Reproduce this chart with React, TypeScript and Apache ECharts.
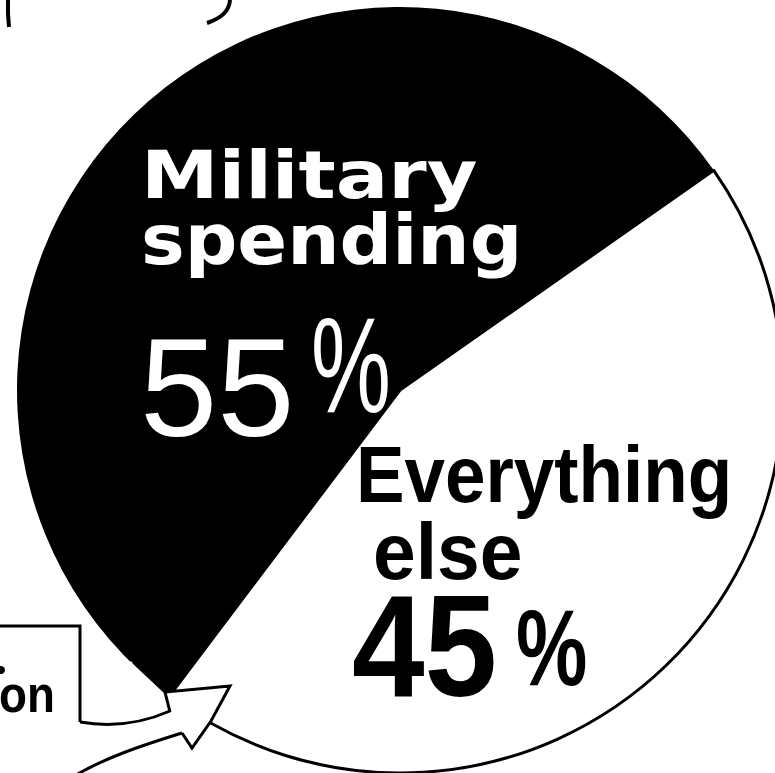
import React, { useEffect, useRef } from "react";
import * as echarts from "echarts";

const categories = ["Military spending", "Everything else"];
const values = [55, 45];
const nameLines = [["Military", "spending"], ["Everything", "else"]];
const sliceColors = ["#000000", "#ffffff"];
const boxText = "on";

export default function App() {
  const ref = useRef<HTMLDivElement>(null);
  useEffect(() => {
    if (!ref.current) return;
    const chart = echarts.init(ref.current, null, { renderer: "svg" });
    const total = values.reduce((a, b) => a + b, 0);
    const pct = values.map((v) => String(Math.round((v / total) * 100)));

    // text helper: left x, baseline y, font, size, horizontal scale
    const txt = (text: string, x: number, base: number, family: string, weight: string, size: number, sx: number, fill: string) => ({
      type: "text",
      z: 110,
      x,
      y: base - 0.346 * size - 1,
      scaleX: sx,
      style: { text, fontFamily: family, fontWeight: weight, fontSize: size, fill, align: "left", verticalAlign: "middle" },
    });

    const data = categories.map((name, i) => ({
      value: values[i],
      name,
      itemStyle:
        i === 0
          ? { color: sliceColors[i], borderWidth: 0 }
          : { color: sliceColors[i], borderColor: "#000", borderWidth: 3 },
    }));

    chart.setOption({
      animation: false,
      backgroundColor: "#fff",
      series: [
        {
          type: "pie",
          center: [400, 390],
          radius: [0, 383],
          startAngle: 233,
          clockwise: true,
          silent: true,
          label: { show: false },
          labelLine: { show: false },
          data,
        },
      ],
      graphic: [
        // labels
        txt(nameLines[0][0], 141, 199, "DejaVu Sans", "bold", 66, 1.18, "#fff"),
        txt(nameLines[0][1], 141, 265, "DejaVu Sans", "bold", 70, 1.05, "#fff"),
        txt(pct[0], 140, 437, "Liberation Sans", "normal", 139, 1.0, "#fff"),
        txt("%", 311, 413, "Liberation Sans", "normal", 136, 0.66, "#fff"),
        txt(nameLines[1][0], 356, 503, "Liberation Sans", "bold", 80, 0.91, "#000"),
        txt(nameLines[1][1], 373, 580, "Liberation Sans", "bold", 80, 0.96, "#000"),
        txt(pct[1], 352, 697, "Liberation Sans", "bold", 145, 0.9, "#000"),
        txt("%", 516, 686, "Liberation Sans", "bold", 107, 0.75, "#000"),
        // cut-off fragments at the top
        { type: "polyline", z: 100, shape: { points: [[8, 0], [8, 14], [9, 27]] }, style: { stroke: "#000", lineWidth: 4, fill: null } },
        { type: "bezierCurve", z: 100, shape: { x1: 230, y1: 0, cpx1: 229, cpy1: 16, x2: 207, y2: 23 }, style: { stroke: "#000", lineWidth: 4, fill: null } },
        // callout box, sliver and arrow
        { type: "polygon", z: 99, shape: { points: [[0, 626], [80, 626], [80, 722], [170, 712], [165, 692], [133, 662], [0, 640]] }, style: { fill: "#fff", stroke: null } },
        { type: "polyline", z: 100, shape: { points: [[133, 662], [165, 692]] }, style: { stroke: "#000", lineWidth: 3, fill: null } },
        { type: "polygon", z: 100, shape: { points: [[165, 692], [230, 686], [211, 721], [192, 748], [182, 733], [170, 712]] }, style: { fill: "#fff", stroke: null } },
        { type: "polyline", z: 101, shape: { points: [[170, 712], [165, 692], [230, 686], [211, 721], [192, 748], [182, 733]] }, style: { stroke: "#000", lineWidth: 3, fill: null } },
        { type: "bezierCurve", z: 101, shape: { x1: 182, y1: 733, cpx1: 140, cpy1: 746, cpx2: 105, cpy2: 758, x2: 76, y2: 775 }, style: { stroke: "#000", lineWidth: 3, fill: null } },
        { type: "polyline", z: 101, shape: { points: [[0, 626], [80, 626], [80, 722]] }, style: { stroke: "#000", lineWidth: 3, fill: null } },
        { type: "bezierCurve", z: 101, shape: { x1: 80, y1: 722, cpx1: 115, cpy1: 728, cpx2: 145, cpy2: 722, x2: 170, y2: 711 }, style: { stroke: "#000", lineWidth: 3, fill: null } },
        { type: "circle", z: 101, shape: { cx: 1, cy: 670, r: 4 }, style: { fill: "#000" } },
        txt(boxText, -1, 713, "Liberation Sans", "bold", 52, 0.88, "#000"),
      ],
    });
    return () => chart.dispose();
  }, []);
  return (
    <div
      ref={ref}
      style={{ position: "fixed", left: 0, top: 0, width: 775, height: 773, background: "#fff" }}
    />
  );
}
